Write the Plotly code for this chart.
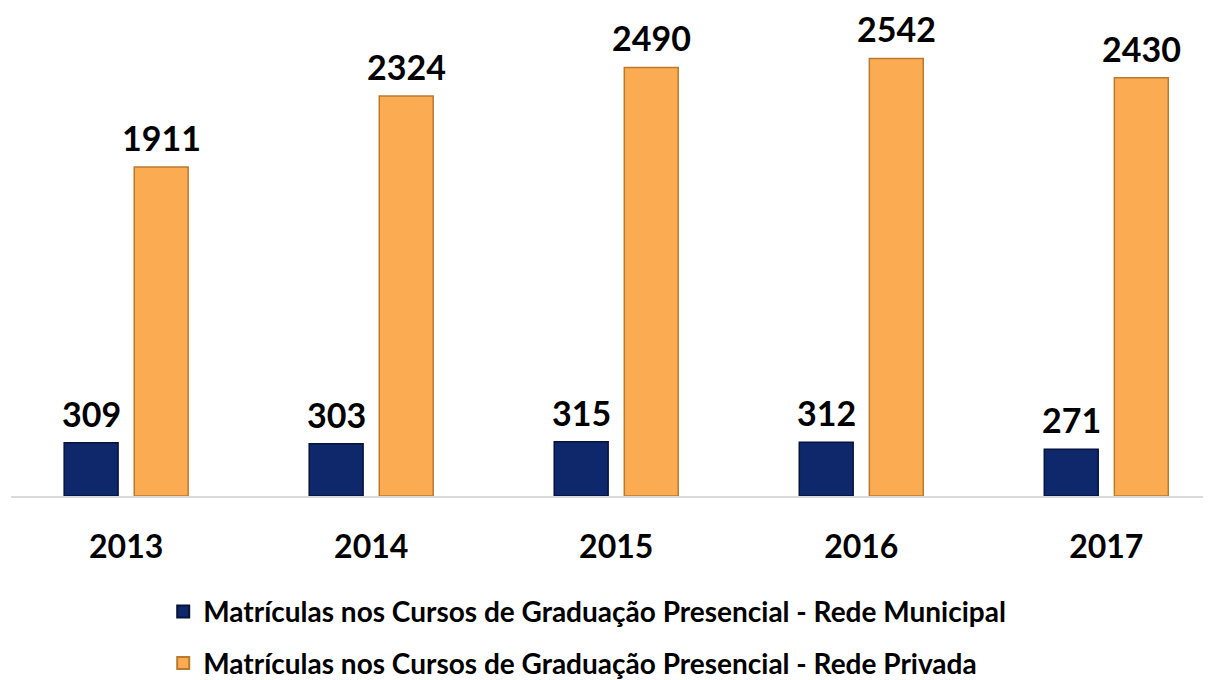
import plotly.graph_objects as go

years = ["2013", "2014", "2015", "2016", "2017"]
municipal = [309, 303, 315, 312, 271]
privada = [1911, 2324, 2490, 2542, 2430]
names = [
    "Matrículas nos Cursos de Graduação Presencial - Rede Municipal",
    "Matrículas nos Cursos de Graduação Presencial - Rede Privada",
]

FONT = "Lato"
xs = list(range(len(years)))
W = 0.22
OFF_M = -0.253
OFF_P = 0.033

fig = go.Figure()
fig.add_trace(go.Bar(
    x=xs, y=municipal, name=names[0], width=W, offset=OFF_M,
    marker=dict(color="#0f276b", line=dict(color="#06133a", width=1.5)),
    legendgroup="m",
))
fig.add_trace(go.Bar(
    x=xs, y=privada, name=names[1], width=W, offset=OFF_P,
    marker=dict(color="#fbac52", line=dict(color="#b97a2e", width=1.5)),
    legendgroup="p",
))

ann = []
for series, off in ((municipal, OFF_M), (privada, OFF_P)):
    for i, v in zip(xs, series):
        ann.append(dict(
            x=i + off + W / 2, y=v, xref="x", yref="y",
            text=f"<b>{v}</b>", showarrow=False, yanchor="bottom",
            yshift=8, borderpad=0,
            font=dict(family=FONT, size=34, color="#000000"),
        ))

fig.update_layout(
    width=1211, height=680,
    margin=dict(l=3, r=0, t=10, b=186),
    paper_bgcolor="white", plot_bgcolor="white",
    barmode="overlay",
    annotations=ann,
    showlegend=True,
    legend=dict(
        x=0.126, y=-0.19, xanchor="left", yanchor="top",
        font=dict(family=FONT, size=28, color="#000000", weight="bold"),
        traceorder="grouped", tracegroupgap=12,
        itemsizing="constant",
    ),
    xaxis=dict(
        range=[-0.47, 4.46], tickvals=xs, ticktext=years,
        showgrid=False, zeroline=False,
        showline=True, linecolor="#d9d9d9", linewidth=2,
        ticks="", ticklabelstandoff=22,
        tickfont=dict(family=FONT, size=32, color="#000000", weight="bold"),
    ),
    yaxis=dict(
        range=[0, 2777], visible=False, showgrid=False, zeroline=False,
    ),
)

fig.write_html("out.html")
